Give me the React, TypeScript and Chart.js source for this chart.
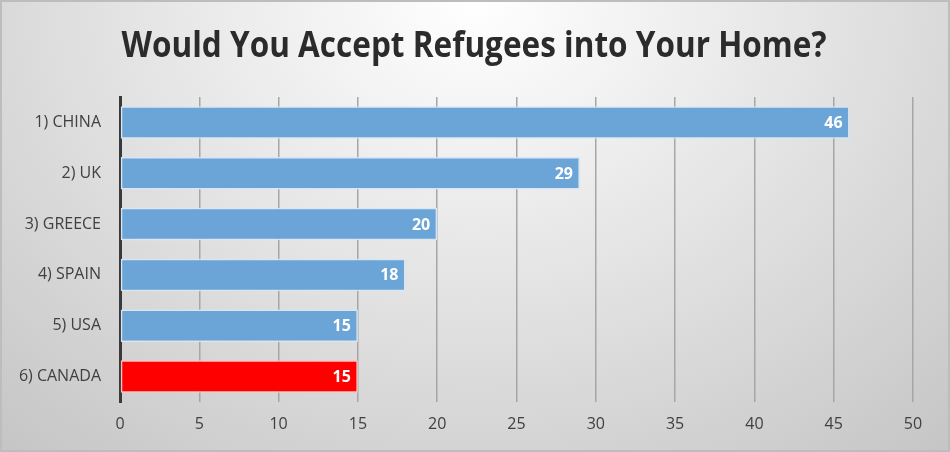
import React, { useEffect, useRef } from "react";
import { Chart, registerables } from "chart.js";

Chart.register(...registerables);

const categories = ["1) CHINA", "2) UK", "3) GREECE", "4) SPAIN", "5) USA", "6) CANADA"];
const values = [46, 29, 20, 18, 15, 15];
const barColors = ["#6ba4d7", "#6ba4d7", "#6ba4d7", "#6ba4d7", "#6ba4d7", "#ff0000"];
const borderColors = ["#d6e6f5", "#d6e6f5", "#d6e6f5", "#d6e6f5", "#d6e6f5", "#ffc0c0"];
const titleText = "Would You Accept Refugees into Your Home?";
const xMin = 0;
const xMax = 50;
const xStep = 5;

const FONT = "'Open Sans', 'Noto Sans', sans-serif";

const valueLabels = {
  id: "valueLabels",
  afterDatasetsDraw(chart: any) {
    const { ctx } = chart;
    const meta = chart.getDatasetMeta(0);
    ctx.save();
    ctx.font = `bold 16px ${FONT}`;
    ctx.fillStyle = "#ffffff";
    ctx.textAlign = "right";
    ctx.textBaseline = "middle";
    meta.data.forEach((bar: any, i: number) => {
      ctx.fillText(String(values[i]), bar.x - 7, bar.y + 1);
    });
    ctx.restore();
  },
};

const titlePlugin = {
  id: "scaledTitle",
  afterDraw(chart: any) {
    const { ctx } = chart;
    ctx.save();
    ctx.font = `bold 35px ${FONT}`;
    ctx.fillStyle = "#2b2b2b";
    ctx.textAlign = "center";
    ctx.textBaseline = "alphabetic";
    const w = ctx.measureText(titleText).width;
    const sx = 705 / w;
    ctx.translate(474, 57);
    ctx.scale(sx, 1);
    ctx.fillText(titleText, 0, 0);
    ctx.restore();
  },
};

export default function App() {
  const ref = useRef<HTMLCanvasElement | null>(null);

  useEffect(() => {
    if (!ref.current) return;
    const chart = new Chart(ref.current, {
      type: "bar",
      data: {
        labels: categories,
        datasets: [
          {
            data: values,
            backgroundColor: barColors,
            borderColor: borderColors,
            borderWidth: 1.5,
            borderSkipped: false,
            barPercentage: 0.64,
            categoryPercentage: 1.0,
          },
        ],
      },
      options: {
        indexAxis: "y",
        animation: false,
        responsive: false,
        maintainAspectRatio: false,
        layout: { padding: { left: 0, right: 37, top: 97, bottom: 0 } },
        plugins: {
          legend: { display: false },
          tooltip: { enabled: false },
          title: { display: false },
        },
        scales: {
          x: {
            min: xMin,
            max: xMax,
            afterFit: (s: any) => {
              s.height = 50;
            },
            ticks: {
              stepSize: xStep,
              color: "#404040",
              font: { family: FONT, size: 16 },
              padding: 13,
            },
            grid: { color: "#a6a6a6", lineWidth: 1.5, drawTicks: false },
            border: { display: false },
          },
          y: {
            afterFit: (s: any) => {
              s.width = 120;
            },
            ticks: {
              color: "#404040",
              font: { family: FONT, size: 16 },
              padding: 19,
            },
            grid: { display: false, drawTicks: false },
            border: { display: true, color: "#3a3a3a", width: 3 },
          },
        },
      },
      plugins: [valueLabels, titlePlugin],
    });
    return () => chart.destroy();
  }, []);

  return (
    <div
      style={{
        position: "absolute",
        left: 0,
        top: 0,
        width: 950,
        height: 452,
        background:
          "radial-gradient(ellipse 75% 130% at 50% 0%, #ffffff 0%, #e6e6e6 45%, #c6c6c6 100%)",
      }}
    >
      <canvas ref={ref} width={950} height={452} style={{ position: "absolute", left: 0, top: 0 }} />
      <div
        style={{
          position: "absolute",
          left: 0,
          top: 0,
          width: 950,
          height: 452,
          boxSizing: "border-box",
          border: "2px solid #bdbdbd",
          pointerEvents: "none",
        }}
      />
    </div>
  );
}
